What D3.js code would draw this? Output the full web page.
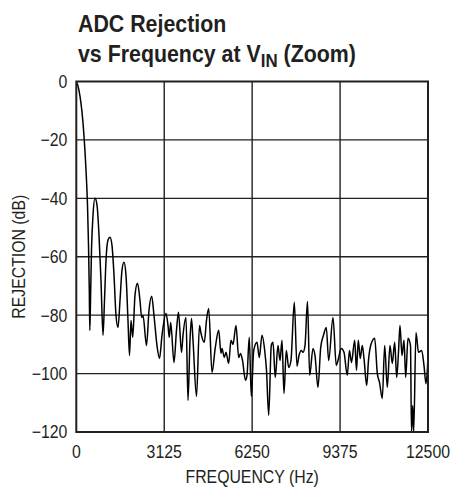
<!DOCTYPE html>
<html>
<head>
<meta charset="utf-8">
<script src="https://cdn.jsdelivr.net/npm/d3@7"></script>
<style>
  body { margin: 0; background: #fff; }
  svg { display: block; }
  text { font-family: "Liberation Sans", Arial, sans-serif; fill: #231f20; }
</style>
</head>
<body>
<script>
// frequency (Hz) and rejection (dB)
const freq = [0, 60, 131, 203, 274, 345, 398, 434, 462, 480, 505, 540, 594, 665, 736, 807, 878, 949,
  1002, 1056, 1127, 1198, 1269, 1340, 1411, 1482, 1553, 1624, 1695, 1766, 1837, 1891, 1944, 2004,
  2086, 2175, 2264, 2324, 2371, 2495, 2584, 2680, 2761, 2868, 2957, 3046, 3188, 3259, 3305, 3355,
  3472, 3561, 3632, 3739, 3792, 3899, 3970, 4041, 4094, 4148, 4272, 4379, 4432, 4549, 4627, 4706,
  4823, 4940, 5061, 5143, 5178, 5260, 5320, 5416, 5498, 5569, 5676, 5772, 5836, 5907, 6013, 6067,
  6148, 6220, 6305, 6422, 6504, 6600, 6696, 6760, 6838, 6930, 6991, 7072, 7168, 7240, 7311, 7382,
  7463, 7549, 7630, 7748, 7844, 7915, 7997, 8057, 8128, 8217, 8295, 8412, 8483, 8590, 8686, 8785,
  8885, 8970, 9123, 9240, 9301, 9418, 9514, 9631, 9709, 9780, 9894, 9958, 10022, 10093, 10164,
  10225, 10321, 10385, 10463, 10605, 10698, 10776, 10875, 10961, 11053, 11149, 11231, 11316, 11387,
  11451, 11504, 11576, 11647, 11707, 11789, 11878, 11913, 11956, 11991, 12073, 12162, 12276, 12357,
  12429, 12500];
const rejection = [0, -1.5, -5, -10.5, -18.7, -30.3, -42.3, -56, -71.5, -85.2, -75, -57.8, -45.8, -40,
  -42.3, -52.6, -68.1, -86.9, -75, -61.2, -54.3, -53.3, -56.1, -66.3, -80.1, -84.2, -75, -64.6,
  -61.9, -66.3, -81.8, -93.8, -81.8, -87.6, -73.2, -69.1, -75, -80.8, -80.1, -90.4, -78.3, -73.5,
  -80.1, -90.4, -94.8, -86.9, -79.4, -83.5, -87.6, -82.5, -96.2, -85.2, -79, -92.7, -86.9, -80.8,
  -109.2, -88.6, -81.1, -88.6, -107.8, -83.5, -86.2, -89.3, -81.8, -77.7, -99.6, -91.1, -85.2,
  -93.1, -91.4, -94.5, -92.7, -96.5, -88.6, -90, -83.5, -94.5, -93.1, -95.5, -102.3, -100.6,
  -87.6, -107.8, -92.1, -89.3, -94.5, -86.9, -92.1, -98.9, -114.3, -90.4, -89.3, -101.3, -90.4,
  -95.5, -88.6, -106.8, -92.1, -97.9, -95.5, -75.6, -97.5, -93.8, -92.1, -92.7, -90.4, -75.3,
  -100.6, -91.4, -93.8, -104.7, -91.1, -86.9, -84.2, -95.5, -80.8, -97.2, -95.5, -91.4, -92.7,
  -100.6, -92.1, -96.2, -88.6, -98.9, -88.6, -94.8, -90.4, -94.8, -104.1, -95.5, -90.4, -87.9,
  -99.9, -103, -108.5, -90.4, -104.7, -90.4, -96.5, -89.3, -101.3, -92.7, -83.5, -93.8, -88.6,
  -101.3, -87.9, -90.4, -120, -110.9, -120, -85.9, -92.7, -92.1, -97.2, -103.5, -94.5];

const xTicks = [0, 3125, 6250, 9375, 12500];
const yTicks = [0, -20, -40, -60, -80, -100, -120];

const W = 451, H = 489;
const margin = { top: 81.5, right: 23, bottom: 57, left: 76.3 };
const width = W - margin.left - margin.right,
      height = H - margin.top - margin.bottom;

// condensed look: squeeze Liberation Sans horizontally
const SQ = 0.88;

const svg = d3.select("body").append("svg")
    .attr("width", W)
    .attr("height", H);

// title
const title = svg.append("text")
    .attr("transform", "translate(78,32) scale(0.89,1)")
    .style("font-size", "24px")
    .style("font-weight", "bold");
title.append("tspan").attr("x", 0).attr("y", 0).text("ADC Rejection");
const t2 = title.append("tspan").attr("x", 0).attr("y", 30).text("vs Frequency at V");
t2.append("tspan").attr("dy", 5).style("font-size", "19px").text("IN");
t2.append("tspan").attr("dy", -5).text(" (Zoom)");

const g = svg.append("g")
    .attr("transform", "translate(" + margin.left + "," + margin.top + ")");

const x = d3.scaleLinear().domain([0, 12500]).range([0, width]);
const y = d3.scaleLinear().domain([-120, 0]).range([height, 0]);

// grid
g.selectAll(".vgrid")
    .data(xTicks.slice(1, -1))
    .enter().append("line")
    .attr("x1", d => x(d)).attr("x2", d => x(d))
    .attr("y1", 0).attr("y2", height)
    .attr("stroke", "#231f20").attr("stroke-width", 1.4);

g.selectAll(".hgrid")
    .data(yTicks.slice(1, -1))
    .enter().append("line")
    .attr("x1", 0).attr("x2", width)
    .attr("y1", d => y(d)).attr("y2", d => y(d))
    .attr("stroke", "#231f20").attr("stroke-width", 1.4);

// data line
const pts = freq.map((f, i) => [f, rejection[i]]);
const line = d3.line()
    .x(d => x(d[0]))
    .y(d => y(d[1]))
    .curve(d3.curveMonotoneX);

g.append("clipPath").attr("id", "clip")
    .append("rect").attr("width", width).attr("height", height);

g.append("path")
    .datum(pts)
    .attr("clip-path", "url(#clip)")
    .attr("fill", "none")
    .attr("stroke", "#000")
    .attr("stroke-width", 1.5)
    .attr("stroke-linejoin", "round")
    .attr("d", line);

// frame
g.append("rect")
    .attr("width", width).attr("height", height)
    .attr("fill", "none")
    .attr("stroke", "#231f20").attr("stroke-width", 2);

// tick labels
const fmtY = d => d < 0 ? "\u2212" + Math.abs(d) : String(d);

g.selectAll(".ylab")
    .data(yTicks)
    .enter().append("text")
    .attr("transform", d => "translate(-9," + y(d) + ") scale(" + SQ + ",1)")
    .attr("dy", "0.36em")
    .attr("text-anchor", "end")
    .style("font-size", "18px")
    .text(fmtY);

g.selectAll(".xlab")
    .data(xTicks)
    .enter().append("text")
    .attr("transform", d => "translate(" + x(d) + "," + (height + 26) + ") scale(" + SQ + ",1)")
    .attr("text-anchor", "middle")
    .style("font-size", "18px")
    .text(d => d);

// axis titles
g.append("text")
    .attr("transform", "translate(" + (width / 2) + "," + (height + 51) + ") scale(" + SQ + ",1)")
    .attr("text-anchor", "middle")
    .style("font-size", "18px")
    .text("FREQUENCY (Hz)");

g.append("text")
    .attr("transform", "translate(" + (-51) + "," + (height / 2) + ") rotate(-90) scale(" + SQ + ",1)")
    .attr("text-anchor", "middle")
    .style("font-size", "18px")
    .text("REJECTION (dB)");
</script>
</body>
</html>
